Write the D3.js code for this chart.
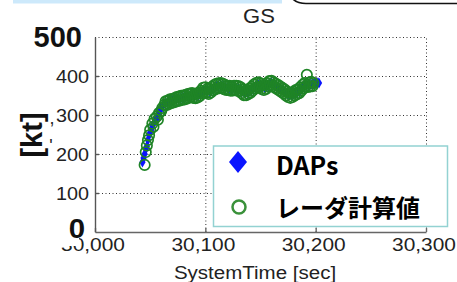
<!DOCTYPE html>
<html>
  <head>
    <meta http-equiv="Content-Type" content="text/html; charset=UTF-8" />
    <title>GS</title>
    <script src="https://d3js.org/d3.v7.min.js"></script>
    <style>
      body { margin: 0; background: #fff; }
      svg { display: block; }
      text { font-family: Arial, "Liberation Sans", sans-serif; }
    </style>
  </head>
  <body>
    <script type="text/javascript">
    // --- data ---
    var xTicks = [30000, 30100, 30200, 30300];
    var xTickLabels = ["30,000", "30,100", "30,200", "30,300"];
    var yTicks = [100, 200, 300, 400];
    var yTickLabels = ["100", "200", "300", "400"];

    // DAPs (time [sec], GS [kt])
    var daps = [
      [30043,179],[30044,190],[30045,200],[30046,212],[30047,220],[30048,236],[30049,248],
      [30050,255],[30051,262],[30052,272],[30053,278],[30054,283],[30055,287],[30056,291],
      [30057,298],[30058,305],[30059,311],[30060,318],[30061,322],[30062,327],
      [30064,330],[30066,333],[30068,336],[30070,338],[30072,339],[30074,341],[30076,342],
      [30078,344],[30080,345],[30082,346],[30084,348],[30086,349],[30088,351],[30090,350],
      [30092,349],[30094,351],[30096,356],[30098,363],[30100,365],[30102,362],[30104,361],
      [30106,365],[30108,370],[30110,374],[30112,375],[30114,376],[30116,375],[30118,372],
      [30120,370],[30122,369],[30124,368],[30126,369],[30128,369],[30130,368],[30132,366],
      [30134,361],[30136,357],[30138,357],[30140,361],[30142,364],[30144,370],[30146,375],
      [30148,378],[30150,376],[30152,372],[30154,370],[30156,374],[30158,380],[30160,382],
      [30162,379],[30164,375],[30166,372],[30168,368],[30170,364],[30172,360],[30174,355],
      [30176,351],[30178,351],[30180,353],[30182,357],[30184,360],[30186,363],[30188,369],
      [30190,374],[30192,377],[30194,378],[30196,379],
      [30197,379],[30198,380],[30199,381],[30200,382],[30201,381],[30202,383],[30203,382]
    ];

    // レーダ計算値 (time [sec], GS [kt])
    var radar = [
      [30045,172],[30046,205],[30047,222],[30048,236],[30049,248],[30050,262],[30052,278],
      [30053,270],[30054,290],[30056,296],[30057,288],[30058,305],[30060,310],[30061,318],
      [30063,326],[30064,335],[30065,326],[30066,337],[30067,328],[30068,340],[30069,331],
      [30070,341],[30071,332],[30072,343],[30073,334],[30074,346],[30075,336],[30076,347],
      [30077,337],[30078,349],[30079,339],[30080,350],[30081,340],[30082,351],[30083,342],
      [30084,354],[30085,344],[30086,355],[30087,346],[30088,356],[30089,344],[30090,354],
      [30091,343],[30092,355],[30093,345],[30094,357],[30095,349],[30096,362],[30097,355],
      [30098,370],[30099,360],[30100,371],[30101,357],[30102,367],[30103,354],[30104,367],
      [30105,358],[30106,372],[30107,363],[30108,377],[30109,366],[30110,380],[30111,368],
      [30112,381],[30113,369],[30114,382],[30115,370],[30116,380],[30117,366],[30118,377],
      [30119,364],[30120,375],[30121,364],[30122,375],[30123,362],[30124,373],[30125,363],
      [30126,375],[30127,364],[30128,375],[30129,362],[30130,374],[30131,361],[30132,371],
      [30133,356],[30134,366],[30135,351],[30136,362],[30137,351],[30138,364],[30139,354],
      [30140,368],[30141,357],[30142,372],[30143,363],[30144,378],[30145,368],[30146,382],
      [30147,371],[30148,384],[30149,371],[30150,381],[30151,367],[30152,377],[30153,364],
      [30154,377],[30155,367],[30156,382],[30157,373],[30158,387],[30159,377],[30160,388],
      [30161,374],[30162,384],[30163,370],[30164,380],[30165,367],[30166,377],[30167,363],
      [30168,373],[30169,359],[30170,369],[30171,355],[30172,365],[30173,350],[30174,360],
      [30175,346],[30176,357],[30177,344],[30178,357],[30179,346],[30180,360],[30181,350],
      [30182,364],[30183,353],[30184,366],[30185,356],[30186,371],[30187,362],[30188,377],
      [30189,368],[30190,382],[30191,374],[30192,403],[30193,372],[30194,383],[30195,373],
      [30196,385],[30197,374],[30198,382]
    ];

    var W = 457, H = 282;
    var svg = d3.select("body").append("svg")
      .attr("width", W)
      .attr("height", H);

    var x = d3.scaleLinear().domain([30000, 30300]).range([95, 426]);
    var y = d3.scaleLinear().domain([0, 500]).range([232, 37]);

    // bits of the slide around the chart
    svg.append("rect").attr("x", 13).attr("y", 0).attr("width", 269).attr("height", 3.5)
      .attr("fill", "#cde9fb");
    svg.append("path").attr("d", "M291,-3 Q296,3.5 306,3.5 L460,3.5")
      .attr("fill", "none").attr("stroke", "#111").attr("stroke-width", 1.6);

    // dotted grid
    var grid = svg.append("g").attr("stroke", "#333").attr("stroke-width", 1)
      .attr("stroke-dasharray", "1,2.5");
    grid.selectAll(".gy").data([100, 200, 300, 400, 500]).enter().append("line")
      .attr("x1", x(30000)).attr("x2", x(30300))
      .attr("y1", function(d) { return y(d) + 0.5; })
      .attr("y2", function(d) { return y(d) + 0.5; });
    grid.selectAll(".gx").data([30100, 30200, 30300]).enter().append("line")
      .attr("x1", function(d) { return x(d) + 0.5; })
      .attr("x2", function(d) { return x(d) + 0.5; })
      .attr("y1", y(0)).attr("y2", y(500));

    // DAPs diamonds
    svg.append("g").selectAll("path").data(daps).enter().append("path")
      .attr("d", d3.symbol().type(d3.symbolDiamond).size(34))
      .attr("transform", function(d) { return "translate(" + x(d[0]) + "," + y(d[1]) + ")"; })
      .attr("fill", "#0a14ff");

    // radar circles
    svg.append("g").selectAll("circle").data(radar).enter().append("circle")
      .attr("cx", function(d) { return x(d[0]); })
      .attr("cy", function(d) { return y(d[1]); })
      .attr("r", 5.2)
      .attr("fill", "none")
      .attr("stroke", "#1f8426")
      .attr("stroke-width", 1.7);

    // axes (lines + inward ticks, labels drawn by hand below)
    svg.append("g").attr("transform", "translate(0," + y(0) + ")")
      .call(d3.axisBottom(x).tickValues(xTicks).tickSize(-4).tickSizeOuter(0).tickFormat(""))
      .call(function(g) { g.selectAll("path, line").attr("stroke", "#666").attr("stroke-width", 1.4); });
    svg.append("g").attr("transform", "translate(" + x(30000) + ",0)")
      .call(d3.axisLeft(y).tickValues(yTicks).tickSize(-4).tickSizeOuter(0).tickFormat(""))
      .call(function(g) { g.selectAll("path, line").attr("stroke", "#555").attr("stroke-width", 1.4); });

    // legend
    var lg = svg.append("g");
    lg.append("rect").attr("x", 213.5).attr("y", 146).attr("width", 234).attr("height", 80.5)
      .attr("fill", "#fff").attr("stroke", "#93d2d2").attr("stroke-width", 1.5);
    lg.append("path").attr("d", "M238,151 L247,162 L238,173 L229,162 Z").attr("fill", "#0a14ff");
    lg.append("circle").attr("cx", 239).attr("cy", 207).attr("r", 6.5)
      .attr("fill", "none").attr("stroke", "#3a913a").attr("stroke-width", 2.5);
    lg.append("text").attr("x", 276).attr("y", 175)
      .style("font-family", "'Noto Sans CJK JP', sans-serif").style("font-weight", "bold")
      .style("font-size", "25px").attr("fill", "#000").text("DAPs");
    lg.append("text").attr("x", 276).attr("y", 217)
      .style("font-family", "'Noto Sans CJK JP', sans-serif").style("font-weight", "bold")
      .style("font-size", "24px").attr("fill", "#000").text("レーダ計算値");

    // text helper with slight horizontal stretch like the picture
    function label(px, py, str, size, anchor, sx) {
      return svg.append("text")
        .attr("transform", "translate(" + px + "," + py + ") scale(" + sx + ",1)")
        .attr("text-anchor", anchor)
        .style("font-size", size + "px")
        .attr("fill", "#222")
        .text(str);
    }

    label(259, 23, "GS", 19.5, "middle", 1.13);
    yTicks.forEach(function(v, i) {
      label(89, y(v) + 6.5, yTickLabels[i], 18, "end", 1.1);
    });
    xTicks.forEach(function(v, i) {
      label(x(v) - 2, 251, xTickLabels[i], 19, "middle", 1.1);
    });
    label(255, 279, "SystemTime [sec]", 19, "middle", 1.08);

    // leftovers of the old y label
    label(52, 124, ",", 18, "middle", 1);
    label(51, 152, "'", 18, "middle", 1);

    // pasted-over labels: white patch hides the top of "30" in 30,000
    svg.append("rect").attr("x", 30).attr("y", 214).attr("width", 49).attr("height", 32).attr("fill", "#fff");
    label(85, 238, "0", 28, "end", 1.05).style("font-weight", "bold").attr("fill", "#111");
    label(82, 46.5, "500", 29, "end", 1).style("font-weight", "bold").attr("fill", "#111");
    svg.append("text")
      .attr("transform", "translate(42,135) rotate(-90)")
      .attr("text-anchor", "middle")
      .style("font-size", "29px").style("font-weight", "bold")
      .attr("fill", "#111")
      .text("[kt]");
    </script>
  </body>
</html>
